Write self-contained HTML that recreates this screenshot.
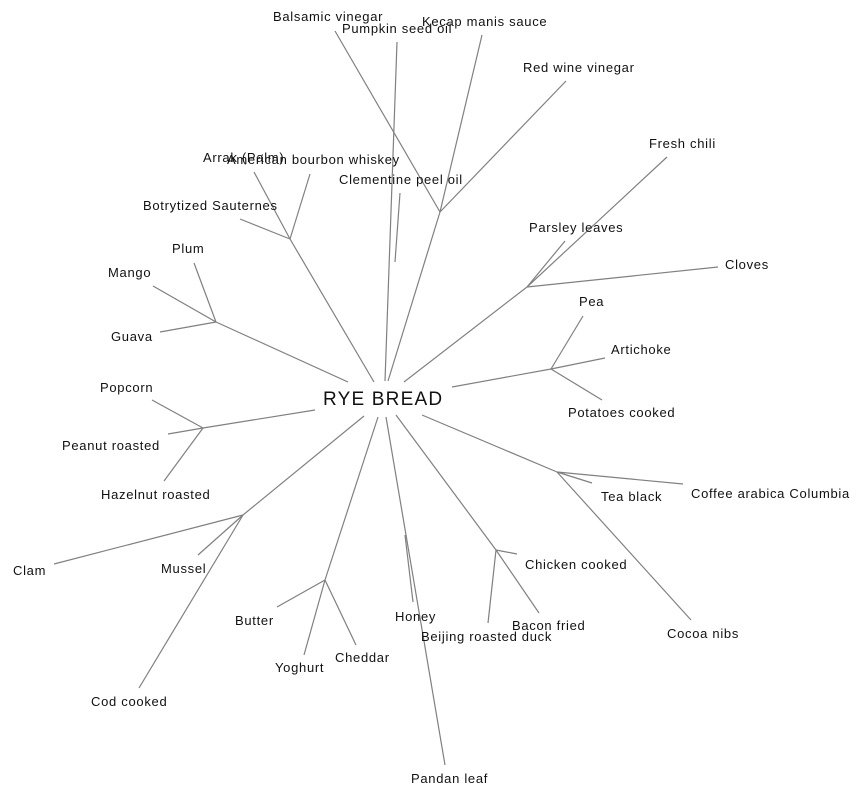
<!DOCTYPE html>
<html><head><meta charset="utf-8"><style>
html,body{margin:0;padding:0;background:#fff;}
svg{display:block;}
text{font-family:"Liberation Sans",Arial,sans-serif;font-size:13px;fill:#111;letter-spacing:0.7px;}
line{stroke:#808080;stroke-width:1.2;}
</style></head><body>
<svg width="864" height="796" viewBox="0 0 864 796" xmlns="http://www.w3.org/2000/svg">
<g>
<line x1="388" y1="381" x2="440" y2="212"/>
<line x1="440" y1="212" x2="335" y2="31"/>
<line x1="440" y1="212" x2="482" y2="35"/>
<line x1="440" y1="212" x2="566" y2="81"/>
<line x1="385" y1="381" x2="397" y2="42"/>
<line x1="400" y1="193" x2="395" y2="262"/>
<line x1="374" y1="382" x2="290" y2="239"/>
<line x1="290" y1="239" x2="254" y2="172"/>
<line x1="290" y1="239" x2="310" y2="174"/>
<line x1="290" y1="239" x2="240" y2="219"/>
<line x1="348" y1="382" x2="216" y2="322"/>
<line x1="216" y1="322" x2="194" y2="263"/>
<line x1="216" y1="322" x2="160" y2="332"/>
<line x1="216" y1="322" x2="153" y2="286"/>
<line x1="404" y1="382" x2="527" y2="287"/>
<line x1="527" y1="287" x2="565" y2="241"/>
<line x1="527" y1="287" x2="667" y2="157"/>
<line x1="527" y1="287" x2="718" y2="267"/>
<line x1="452" y1="387" x2="551" y2="369"/>
<line x1="551" y1="369" x2="583" y2="316"/>
<line x1="551" y1="369" x2="605" y2="358"/>
<line x1="551" y1="369" x2="602" y2="400"/>
<line x1="315" y1="410" x2="203" y2="428"/>
<line x1="203" y1="428" x2="152" y2="400"/>
<line x1="203" y1="428" x2="168" y2="434"/>
<line x1="203" y1="428" x2="164" y2="481"/>
<line x1="364" y1="416" x2="243" y2="515"/>
<line x1="243" y1="515" x2="54" y2="564"/>
<line x1="243" y1="515" x2="198" y2="555"/>
<line x1="243" y1="515" x2="139" y2="688"/>
<line x1="378" y1="417" x2="325" y2="580"/>
<line x1="325" y1="580" x2="277" y2="607"/>
<line x1="325" y1="580" x2="304" y2="655"/>
<line x1="325" y1="580" x2="356" y2="645"/>
<line x1="405" y1="535" x2="413" y2="602"/>
<line x1="386" y1="417" x2="445" y2="765"/>
<line x1="422" y1="415" x2="557" y2="472"/>
<line x1="557" y1="472" x2="592" y2="483"/>
<line x1="557" y1="472" x2="683" y2="484"/>
<line x1="557" y1="472" x2="691" y2="620"/>
<line x1="396" y1="415" x2="496" y2="550"/>
<line x1="496" y1="550" x2="517" y2="554"/>
<line x1="496" y1="550" x2="539" y2="613"/>
<line x1="496" y1="550" x2="488" y2="623"/>
</g>
<text x="273" y="21">Balsamic vinegar</text>
<text x="342" y="33">Pumpkin seed oil</text>
<text x="422" y="26">Kecap manis sauce</text>
<text x="523" y="72">Red wine vinegar</text>
<text x="649" y="148">Fresh chili</text>
<text x="203" y="162">Arrak (Palm)</text>
<text x="227" y="164">American bourbon whiskey</text>
<text x="339" y="184">Clementine peel oil</text>
<text x="143" y="210">Botrytized Sauternes</text>
<text x="529" y="232">Parsley leaves</text>
<text x="172" y="253">Plum</text>
<text x="725" y="269">Cloves</text>
<text x="108" y="277">Mango</text>
<text x="579" y="306">Pea</text>
<text x="111" y="341">Guava</text>
<text x="611" y="354">Artichoke</text>
<text x="323" y="405" style="font-size:19px;letter-spacing:1.2px">RYE BREAD</text>
<text x="100" y="392">Popcorn</text>
<text x="568" y="417">Potatoes cooked</text>
<text x="62" y="450">Peanut roasted</text>
<text x="601" y="501">Tea black</text>
<text x="691" y="498">Coffee arabica Columbia</text>
<text x="101" y="499">Hazelnut roasted</text>
<text x="525" y="569">Chicken cooked</text>
<text x="13" y="575">Clam</text>
<text x="161" y="573">Mussel</text>
<text x="235" y="625">Butter</text>
<text x="395" y="621">Honey</text>
<text x="512" y="630">Bacon fried</text>
<text x="667" y="638">Cocoa nibs</text>
<text x="421" y="641">Beijing roasted duck</text>
<text x="335" y="662">Cheddar</text>
<text x="275" y="672">Yoghurt</text>
<text x="91" y="706">Cod cooked</text>
<text x="411" y="783">Pandan leaf</text>
</svg>
</body></html>
